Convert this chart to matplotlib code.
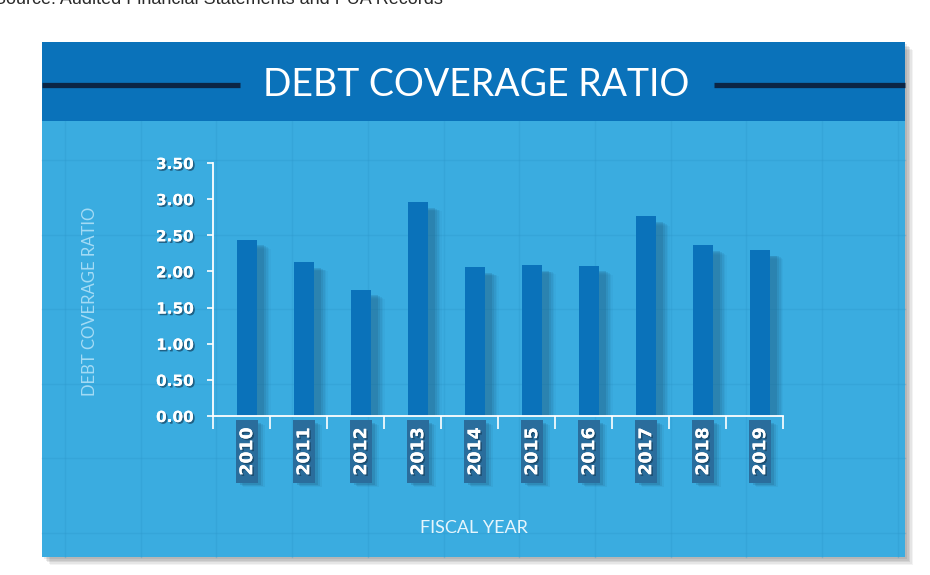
import numpy as np
import matplotlib
matplotlib.use("Agg")
import matplotlib.pyplot as plt
import matplotlib.patches as mpatches
import matplotlib.patheffects as pe

# ---- data ----
years = ["2010", "2011", "2012", "2013", "2014", "2015", "2016", "2017", "2018", "2019"]
ratios = [2.44, 2.13, 1.75, 2.96, 2.06, 2.09, 2.08, 2.76, 2.36, 2.30]
yticks = [0.0, 0.5, 1.0, 1.5, 2.0, 2.5, 3.0, 3.5]
ytick_labels = ["0.00", "0.50", "1.00", "1.50", "2.00", "2.50", "3.00", "3.50"]
title = "DEBT COVERAGE RATIO"
ylabel = "DEBT COVERAGE RATIO"
xlabel = "FISCAL YEAR"
source = "Source: Audited Financial Statements and PUA Records"

# ---- colours ----
HEADER = "#0A72BA"
BODY = "#3AACE0"
BAR = "#0A72BA"
BAR_SHADOW = "#1E5A80"
LABEL_BOX = "#2A6D9C"
NAVY = "#0B2545"

W, H = 930, 575
fig = plt.figure(figsize=(W / 100, H / 100), dpi=100)
fig.patch.set_facecolor("white")

# background decoration axes in pixel coordinates
bg = fig.add_axes([0, 0, 1, 1])
bg.set_xlim(0, W)
bg.set_ylim(H, 0)
bg.axis("off")

px0, px1, py0, py1, hy = 42, 905, 42, 557, 121
for i, a in enumerate([0.10, 0.10, 0.10, 0.08, 0.06]):
    off = 2 + i * 1.5
    bg.add_patch(mpatches.Rectangle((px0 + off, py0 + off), px1 - px0, py1 - py0,
                                    facecolor="#404040", alpha=a, lw=0, zorder=0))
bg.add_patch(mpatches.Rectangle((px0, py0), px1 - px0, py1 - py0,
                                facecolor=BODY, lw=0, zorder=1))
bg.add_patch(mpatches.Rectangle((px0, py0), px1 - px0, hy - py0,
                                facecolor=HEADER, lw=0, zorder=2))
for gx in np.arange(65, px1, 75.7):
    bg.plot([gx, gx], [hy, py1], color="#2C95C9", lw=1.0, alpha=0.3, zorder=1.5)
for gy in np.arange(160, py1, 74.5):
    bg.plot([px0, px1], [gy, gy], color="#2C95C9", lw=1.0, alpha=0.3, zorder=1.5)

bg.plot([px0, 240], [85, 85], color=NAVY, lw=3.8, solid_capstyle="butt", zorder=3)
bg.plot([714, px1], [85, 85], color=NAVY, lw=3.8, solid_capstyle="butt", zorder=3)
bg.text(476, 85, title, color="white", fontsize=27, family="Lato", fontweight="normal",
        ha="center", va="center", zorder=4)

bg.text(-6, 0, source, color="#2a2a2a", fontsize=13, family="Liberation Sans",
        ha="left", va="center", zorder=4)

bg.text(90, 301, ylabel, color="#A4DBF5", fontsize=12, family="Lato",
        rotation=90, ha="center", va="center", zorder=4)
bg.text(474, 528, xlabel, color="#E6F5FC", fontsize=13, family="Lato",
        ha="center", va="center", zorder=4)

# ---- main chart ----
ax_left, ax_right, ax_top, ax_bottom = 213, 783, 163, 416
ax = fig.add_axes([ax_left / W, 1 - ax_bottom / H, (ax_right - ax_left) / W,
                   (ax_bottom - ax_top) / H])
ax.patch.set_alpha(0)
n = len(years)
x = np.arange(n)
xpos = x + 0.1
ax.set_xlim(-0.5, n - 0.5)
ax.set_ylim(0, 3.5)

for k, a in enumerate([0.20, 0.15, 0.11, 0.08, 0.05]):
    ax.bar(xpos + 0.12 + k * 0.03, np.array(ratios) - 0.08 - k * 0.012, width=0.36,
           bottom=0, color=BAR_SHADOW, alpha=a, lw=0, zorder=2)
ax.bar(xpos, ratios, width=0.36, color=BAR, lw=0, zorder=3)

# label boxes below the axis
for k, a in enumerate([0.18, 0.12, 0.07]):
    ax.bar(xpos + 0.06 + k * 0.03, 0.86, bottom=-0.96 - k * 0.01, width=0.38,
           color="#1a4a6a", alpha=a, lw=0, zorder=1, clip_on=False)
ax.bar(xpos, 0.86, bottom=-0.92, width=0.38, color=LABEL_BOX, lw=0, zorder=4,
       clip_on=False)

for s in ["top", "right"]:
    ax.spines[s].set_visible(False)
for s in ["left", "bottom"]:
    ax.spines[s].set_color("white")
    ax.spines[s].set_linewidth(1.3)
    ax.spines[s].set_zorder(5)

ax.set_yticks(yticks)
ax.set_yticklabels(ytick_labels)
ax.tick_params(axis="y", colors="white", length=4, width=1.2, pad=10)
shadow = [pe.withSimplePatchShadow(offset=(1.2, -1.2), shadow_rgbFace="#15405e", alpha=0.7),
          pe.Normal()]
for lab in ax.get_yticklabels():
    lab.set_fontsize(11)
    lab.set_fontweight("bold")
    lab.set_family("DejaVu Sans")
    lab.set_color("white")
    lab.set_path_effects(shadow)

ax.set_xticks(np.arange(-0.5, n, 1.0))
ax.set_xticklabels([])
ax.tick_params(axis="x", colors="white", length=9, width=1.2, direction="out")

for xi, yr in zip(xpos, years):
    ax.text(xi, -0.49, yr, rotation=90, ha="center", va="center",
            fontsize=12.5, fontweight="bold", family="DejaVu Sans", color="white",
            path_effects=shadow, clip_on=False, zorder=6)

fig.savefig("out.png", dpi=100, facecolor="white")
